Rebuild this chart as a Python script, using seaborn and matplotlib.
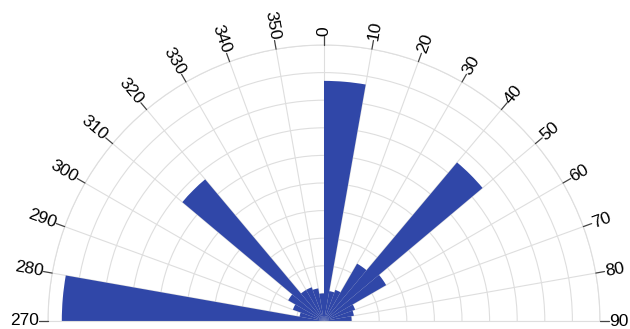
import numpy as np
import matplotlib
matplotlib.use("Agg")
import matplotlib.pyplot as plt
import seaborn as sns

# Rose diagram of orientations, 10-degree bins over the northern half (270 -> 0 -> 90)
bin_start = [270, 280, 290, 300, 310, 320, 330, 340, 350,
             0, 10, 20, 30, 40, 50, 60, 70, 80]
counts = [9.5, 0.9, 1.2, 1.5, 6.7, 1.3, 1.3, 1.2, 1.0,
          8.7, 1.1, 1.2, 2.4, 7.5, 2.6, 1.2, 1.1, 1.0]
tick_angles = [270, 280, 290, 300, 310, 320, 330, 340, 350,
               0, 10, 20, 30, 40, 50, 60, 70, 80, 90]
tick_labels = [str(a) for a in tick_angles]
r_max = 10
bin_width = 10

sns.set_style("white")
plt.rcParams["font.family"] = ["Liberation Sans", "DejaVu Sans"]

bar_color = "#3047a8"
grid_color = "#dedede"

def signed(a):
    a = np.asarray(a, dtype=float)
    return np.where(a >= 180, a - 360, a)

W, H = 630, 329
cx, cy, R = 324, 8, 276           # pole position (px from bottom-left) and rim radius
side = 2 * R                      # half-disc sits in the middle half of a square box
fig = plt.figure(figsize=(W / 100, H / 100), dpi=100)
ax = fig.add_axes([(cx - R) / W, (cy - 0.25 * side) / H, side / W, side / H],
                  projection="polar")
ax.set_theta_zero_location("N")
ax.set_theta_direction(-1)
ax.set_thetamin(-90)
ax.set_thetamax(90)
ax.set_ylim(0, r_max)

ax.bar(np.deg2rad(signed(bin_start)), counts, width=np.deg2rad(bin_width),
       align="edge", color=bar_color, edgecolor="none", linewidth=0, zorder=2)

ax.set_axisbelow(True)
ax.set_xticks(np.deg2rad(signed(tick_angles)))
ax.set_xticklabels([])
ax.set_yticks(np.arange(1, r_max + 1))
ax.set_yticklabels([])
ax.tick_params(length=0)
ax.grid(True, color=grid_color, linewidth=0.8)
for name, sp in ax.spines.items():
    sp.set_color(grid_color)
    sp.set_linewidth(0.8)
    if name != "polar":
        sp.set_visible(False)

# Angle labels with short outward ticks, set tangent to the rim
for a, lab in zip(signed(tick_angles), tick_labels):
    th = np.deg2rad(a)
    ax.plot([th, th], [r_max, r_max * 1.032], color="#444444", lw=0.9,
            clip_on=False, zorder=3)
    if a >= 0:
        rot, ha = 90 - a, "left"
    else:
        rot, ha = -90 - a, "right"
    ax.text(th, r_max * 1.034, lab, rotation=rot, rotation_mode="anchor",
            ha=ha, va="center", fontsize=12.5, color="#000000",
            clip_on=False)

fig.savefig("out.png", dpi=100)
